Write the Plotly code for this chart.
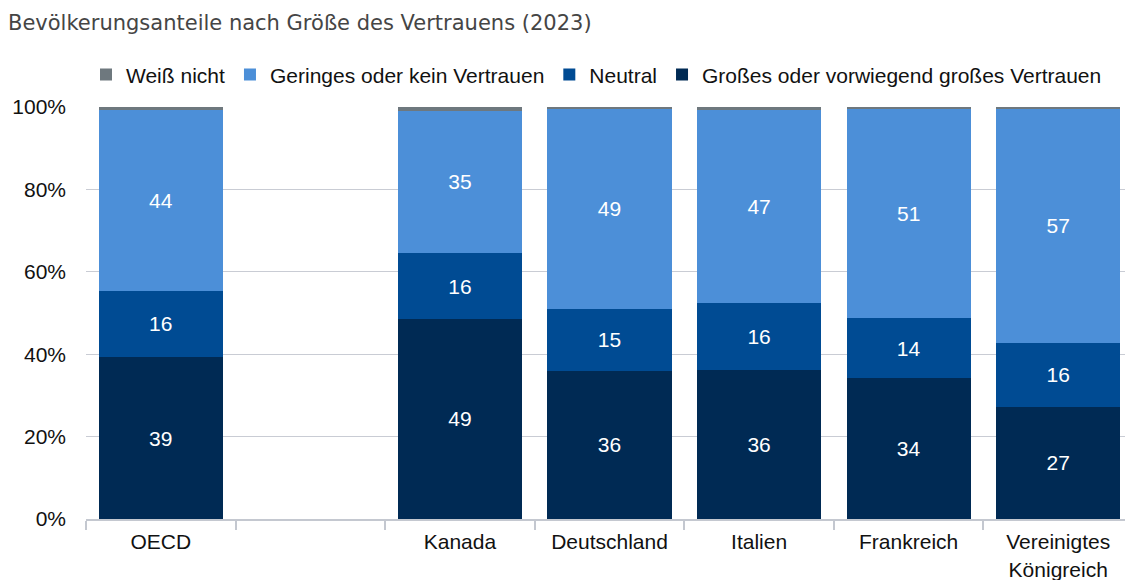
import plotly.graph_objects as go

categories = ["OECD", " ", "Kanada", "Deutschland", "Italien", "Frankreich", "Vereinigtes<br>Königreich"]
gross = [39.3, None, 48.6, 36.0, 36.2, 34.3, 27.2]
neutral = [16.1, None, 15.9, 15.0, 16.2, 14.4, 15.6]
gering = [43.9, None, 34.6, 48.6, 46.8, 50.9, 56.8]
weiss = [0.7, None, 0.9, 0.4, 0.8, 0.4, 0.4]

series = [
    ("Großes oder vorwiegend großes Vertrauen", gross, "#002A54", True),
    ("Neutral", neutral, "#004B93", True),
    ("Geringes oder kein Vertrauen", gering, "#4C8FD8", True),
    ("Weiß nicht", weiss, "#6E787E", False),
]

font_main = "Liberation Sans, Arial, sans-serif"

fig = go.Figure()
for name, vals, color, show_text in series:
    fig.add_trace(go.Bar(
        x=categories, y=vals, name=name,
        marker=dict(color=color, line=dict(width=0)),
        texttemplate="%{y:.0f}" if show_text else None,
        textposition="inside" if show_text else "none",
        insidetextanchor="middle",
        textangle=0,
        textfont=dict(color="white", size=21, family=font_main),
        hoverinfo="skip",
    ))

fig.update_layout(
    barmode="stack",
    bargap=0.17,
    width=1133, height=580,
    margin=dict(l=78, r=8, t=99, b=69, autoexpand=False),
    paper_bgcolor="white", plot_bgcolor="white",
    title=dict(text="Bevölkerungsanteile nach Größe des Vertrauens (2023)",
               x=0.0, xanchor="left", y=0.975, yanchor="middle",
               xref="container", yref="container",
               font=dict(family="DejaVu Sans, sans-serif", size=21, color="#454545")),
    legend=dict(orientation="h", traceorder="reversed",
                x=0.0, xanchor="left", y=1.078, yanchor="middle",
                font=dict(family=font_main, size=21, color="#111111"),
                itemwidth=30, bgcolor="rgba(0,0,0,0)"),
    showlegend=True,
    uniformtext=dict(mode="show", minsize=10),
)

fig.update_yaxes(range=[0, 100], dtick=20, ticksuffix="%",
                 showgrid=True, gridcolor="#c9ccd4", gridwidth=1,
                 zeroline=False, showline=False, automargin=False,
                 tickfont=dict(family=font_main, size=21, color="#111111"),
                 ticklabelstandoff=19)

fig.update_xaxes(type="category", categoryorder="array", categoryarray=categories,
                 showline=True, linecolor="#c4c8d0", linewidth=2,
                 ticks="outside", tickson="boundaries", ticklen=9,
                 tickcolor="#c4c8d0", tickwidth=2, automargin=False,
                 showgrid=False,
                 tickfont=dict(family=font_main, size=21, color="#111111"),
                 ticklabelstandoff=3)

fig.write_html("out.html")
